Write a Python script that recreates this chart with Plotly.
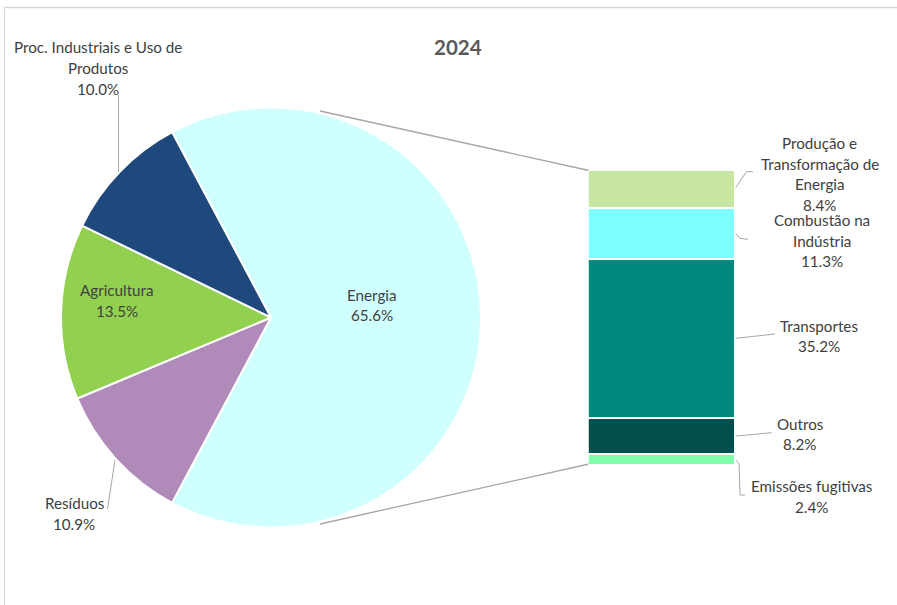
import plotly.graph_objects as go

W, H = 897, 605

# Emissions by sector, 2024 (share of total, %)
pie_labels = ["Energia", "Resíduos", "Agricultura", "Proc. Industriais e Uso de Produtos"]
pie_values = [65.6, 10.9, 13.5, 10.0]
pie_colors = ["#CFFFFF", "#B08BBA", "#92D050", "#1F497D"]

# Breakdown of the energy sector (stacked from the bottom)
bar_labels = ["Emissões fugitivas", "Outros", "Transportes",
              "Combustão na Indústria", "Produção e Transformação de Energia"]
bar_values = [2.4, 8.2, 35.2, 11.3, 8.4]
bar_colors = ["#7FFFAA", "#004F4C", "#00897C", "#7FFFFF", "#C7E6A1"]

# How long names wrap in the labels
wrapped = {
    "Proc. Industriais e Uso de Produtos": ["Proc. Industriais e Uso de", "Produtos"],
    "Combustão na Indústria": ["Combustão na", "Indústria"],
    "Produção e Transformação de Energia": ["Produção e", "Transformação de", "Energia"],
}

FONT = "Lato, Calibri, sans-serif"
TXT = "#404040"
LEAD = "#A6A6A6"
LS = 20.5  # label line spacing in px


def px(x):
    return x / W


def py(y):
    return 1 - y / H


fig = go.Figure()

# Main pie; the energy slice is centred on the right-hand side
rotation = 90 - 360 * pie_values[0] / sum(pie_values) / 2
fig.add_trace(go.Pie(
    labels=pie_labels, values=pie_values, sort=False, direction="clockwise",
    rotation=rotation,
    marker=dict(colors=pie_colors, line=dict(color="white", width=2)),
    textinfo="none", hoverinfo="skip",
    domain=dict(x=[px(61), px(481)], y=[py(527.5), py(107.5)]),
))

# Stacked bar with the energy breakdown
for lab, val, col in zip(bar_labels, bar_values, bar_colors):
    fig.add_trace(go.Bar(
        x=[0], y=[val], name=lab, width=1,
        marker=dict(color=col, line=dict(color="white", width=2)),
        hoverinfo="skip",
    ))

annotations = []


def add_label(lines, cx, cy):
    n = len(lines)
    for i, t in enumerate(lines):
        y = cy + (i - (n - 1) / 2) * LS
        annotations.append(dict(
            x=px(cx), y=py(y), xref="paper", yref="paper", text=t,
            showarrow=False, xanchor="center", yanchor="middle",
            font=dict(family=FONT, size=15.2, color=TXT),
        ))


pie_pos = {
    "Energia": (372, 305),
    "Resíduos": (74, 513.5),
    "Agricultura": (117, 300.5),
    "Proc. Industriais e Uso de Produtos": (98, 68),
}
for lab, val in zip(pie_labels, pie_values):
    lines = wrapped.get(lab, [lab]) + [f"{val:.1f}%"]
    add_label(lines, *pie_pos[lab])

bar_pos = {
    "Emissões fugitivas": (811, 496.7),
    "Outros": (799.5, 434),
    "Transportes": (819, 336),
    "Combustão na Indústria": (821.5, 240.6),
    "Produção e Transformação de Energia": (819.5, 174),
}
for lab, val in zip(bar_labels, bar_values):
    lines = wrapped.get(lab, [lab]) + [f"{val:.1f}%"]
    add_label(lines, *bar_pos[lab])

# Title
annotations.append(dict(
    x=px(457.5), y=py(47), xref="paper", yref="paper", text="<b>2024</b>",
    showarrow=False, xanchor="center", yanchor="middle",
    font=dict(family=FONT, size=20.5, color="#595959"),
))

shapes = []


def polyline(points, color=LEAD, width=1, layer="above"):
    d = "M " + " L ".join(f"{px(x)},{py(y)}" for x, y in points)
    shapes.append(dict(type="path", path=d, xref="paper", yref="paper",
                       line=dict(color=color, width=width), layer=layer))


# Connectors between pie and bar
polyline([(320, 111), (589, 170.5)], color="#A6A6A6", width=1.3, layer="below")
polyline([(320, 524), (589, 464)], color="#A6A6A6", width=1.3, layer="below")

# Leader lines for the labels
polyline([(735.7, 187.5), (746.5, 171.7), (753, 171.7)])
polyline([(735.7, 233.3), (740, 238.3), (748, 239.3)])
polyline([(735.7, 338.3), (775, 334)])
polyline([(735.7, 436), (771.5, 432.7)])
polyline([(735.7, 460), (739, 463.3), (740, 495), (745, 495)])
polyline([(118.5, 95), (118.5, 172)])
polyline([(115, 460), (107.5, 509)])

# Chart area frame
polyline([(4.5, 605), (4.5, 7.5), (897, 7.5)], color="#D9D9D9", width=1.3)

fig.update_layout(
    width=W, height=H, margin=dict(l=0, r=0, t=0, b=0),
    paper_bgcolor="white", plot_bgcolor="rgba(0,0,0,0)",
    showlegend=False, barmode="stack", bargap=0,
    xaxis=dict(domain=[px(588.3), px(735.7)], range=[-0.5, 0.5],
               visible=False, fixedrange=True),
    yaxis=dict(domain=[py(465), py(169.7)], range=[0, sum(bar_values)],
               visible=False, fixedrange=True),
    annotations=annotations, shapes=shapes,
)

fig.write_html("out.html")
